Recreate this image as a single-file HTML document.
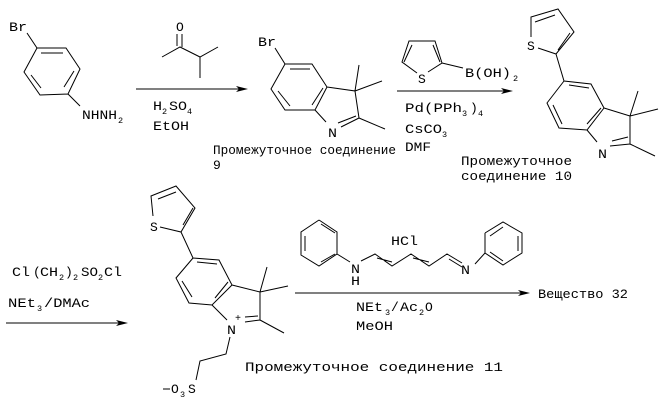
<!DOCTYPE html>
<html><head><meta charset="utf-8">
<style>
html,body{margin:0;padding:0;background:#fff}
svg{display:block}
text{font-family:"Liberation Mono","DejaVu Sans Mono",monospace;font-size:13px;fill:#000}
.s{font-size:8.5px}
path{fill:none;stroke:#000;stroke-width:1}
</style></head>
<body>
<svg width="668" height="405" viewBox="0 0 668 405" xmlns="http://www.w3.org/2000/svg">
<!-- mol 1 -->
<path d="M27 33L37 48L66 48L80 69L68 94L40 95L24 72L37 48M41 53L63 53M31 75L41 88M64 87L74 71M68 94L80 106"/>
<text x="9" y="31" textLength="18" lengthAdjust="spacingAndGlyphs">Br</text>
<text x="82" y="119" textLength="35" lengthAdjust="spacingAndGlyphs">NHNH</text><text class="s" x="118" y="123">2</text>
<!-- ketone -->
<text x="176" y="31">O</text>
<path d="M177 34L177 46M182 34L182 47M162 57L180 47L200 57L218 47M200 57L200 78"/>
<!-- arrow 1 -->
<path d="M136 89L240 89"/><polygon points="236,86 248,89 236,92 239,89"/>
<text x="153" y="110" textLength="9" lengthAdjust="spacingAndGlyphs">H</text><text class="s" x="162" y="114">2</text><text x="169" y="110" textLength="18" lengthAdjust="spacingAndGlyphs">SO</text><text class="s" x="187" y="114">4</text>
<text x="153" y="130" textLength="36" lengthAdjust="spacingAndGlyphs">EtOH</text>
<!-- mol 2 -->
<text x="258" y="46" textLength="18" lengthAdjust="spacingAndGlyphs">Br</text>
<path d="M275 48L285 64L312 64L327 87L315 110L285 110L271 89L285 64M290 69L310 69M278 91L290 106M312 105L323 88M327 87L355 91L359 118M315 110L326 122M341 127L359 118M338 123L356 116M355 91L359 65M355 91L382 81M359 118L385 129"/>
<text x="328" y="137" textLength="9" lengthAdjust="spacingAndGlyphs">N</text>
<text x="213" y="154" textLength="183" lengthAdjust="spacingAndGlyphs">Промежуточное соединение</text>
<text x="213" y="169">9</text>
<!-- thiophene + boronic -->
<path d="M417 73L402 62L409 41L435 41L442 63L428 72M404 62L412 45M433 45L440 62M442 63L463 68"/>
<text x="418" y="83">S</text>
<text x="465" y="77" textLength="46" lengthAdjust="spacingAndGlyphs">B(OH)</text><text class="s" x="513" y="81">2</text>
<!-- arrow 2 -->
<path d="M397 91L505 91"/><polygon points="501,88 513,91 501,94 504,91"/>
<text x="405" y="112" textLength="57" lengthAdjust="spacingAndGlyphs">Pd(PPh</text><text class="s" x="462" y="116">3</text><text x="470" y="112">)</text><text class="s" x="478" y="116">4</text>
<text x="405" y="133" textLength="37" lengthAdjust="spacingAndGlyphs">CsCO</text><text class="s" x="442" y="137">3</text>
<text x="405" y="151" textLength="26" lengthAdjust="spacingAndGlyphs">DMF</text>
<!-- mol 3 -->
<path d="M531 37L531 17L558 9L574 32L556 54L538 48M535 22L555 15M558 50L570 33M556 54L564 81L591 84L604 108L587 130L559 128L547 103L564 81M569 85L589 88M553 105L562 124M587 124L601 108M604 108L630 116L630 144M587 130L597 142M610 146L630 144M612 141L628 137M630 116L638 91M630 116L658 109M630 144L655 156"/>
<text x="527" y="50">S</text>
<text x="598" y="158" textLength="9" lengthAdjust="spacingAndGlyphs">N</text>
<text x="461" y="165" textLength="111" lengthAdjust="spacingAndGlyphs">Промежуточное</text>
<text x="461" y="180" textLength="111" lengthAdjust="spacingAndGlyphs">соединение 10</text>
<!-- left reagents -->
<text x="12" y="276" textLength="18" lengthAdjust="spacingAndGlyphs">Cl</text><text x="33" y="276">(</text><text x="40" y="276" textLength="18" lengthAdjust="spacingAndGlyphs">CH</text><text class="s" x="59" y="280">2</text><text x="65" y="276">)</text><text class="s" x="73" y="280">2</text><text x="81" y="276" textLength="17" lengthAdjust="spacingAndGlyphs">SO</text><text class="s" x="98" y="280">2</text><text x="104" y="276" textLength="18" lengthAdjust="spacingAndGlyphs">Cl</text>
<text x="8" y="307" textLength="28" lengthAdjust="spacingAndGlyphs">NEt</text><text class="s" x="37" y="311">3</text><text x="44" y="307" textLength="46" lengthAdjust="spacingAndGlyphs">/DMAc</text>
<path d="M6 323L120 323"/><polygon points="116,320 128,323 116,326 119,323"/>
<!-- mol 4 -->
<path d="M153 216L151 196L176 186L195 208L181 232L160 227M158 199L176 192M183 225L193 208M181 232L193 258L219 260L232 285L212 305L189 303L176 278L193 258M197 262L217 264M182 281L192 297M215 298L228 282M232 285L260 292L260 320M212 305L227 320M245 322L260 320M245 317L258 316M260 292L267 267M260 292L288 286M260 320L284 333M230 337L226 354L200 361L196 380"/>
<text x="150" y="231">S</text>
<text x="227" y="334" textLength="9" lengthAdjust="spacingAndGlyphs">N</text>
<text x="235" y="321" style="font-size:10px">+</text>
<path d="M163 389L170 389"/>
<text x="171" y="393">O</text><text class="s" x="180" y="397">3</text><text x="188" y="393">S</text>
<text x="245" y="371" textLength="258" lengthAdjust="spacingAndGlyphs">Промежуточное соединение 11</text>
<!-- dianil -->
<path d="M319 220L337 232L337 254L319 266L301 255L301 232L319 220M305 236L305 251M321 224L335 233M321 262L335 254M337 254L350 262M361 261L375 254L392 266L411 254L429 266L447 254L462 263M377 258L392 262M413 258L429 262M449 259L462 267M475 264L485 253"/>
<path d="M485 233L503 222L522 233L522 253L503 265L485 253L485 233M490 236L503 227M518 236L518 251M490 252L503 261"/>
<text x="351" y="273" textLength="9" lengthAdjust="spacingAndGlyphs">N</text>
<text x="351" y="285" textLength="9" lengthAdjust="spacingAndGlyphs">H</text>
<text x="461" y="274" textLength="9" lengthAdjust="spacingAndGlyphs">N</text>
<text x="391" y="245" textLength="27" lengthAdjust="spacingAndGlyphs">HCl</text>
<!-- arrow 3 -->
<path d="M295 293L522 293"/><polygon points="518,290 530,293 518,296 521,293"/>
<text x="356" y="311" textLength="27" lengthAdjust="spacingAndGlyphs">NEt</text><text class="s" x="385" y="315">3</text><text x="391" y="311">/</text><text x="400" y="311" textLength="18" lengthAdjust="spacingAndGlyphs">Ac</text><text class="s" x="419" y="315">2</text><text x="425" y="311">O</text>
<text x="356" y="330" textLength="37" lengthAdjust="spacingAndGlyphs">MeOH</text>
<text x="538" y="298" textLength="90" lengthAdjust="spacingAndGlyphs">Вещество 32</text>
</svg>
</body></html>
